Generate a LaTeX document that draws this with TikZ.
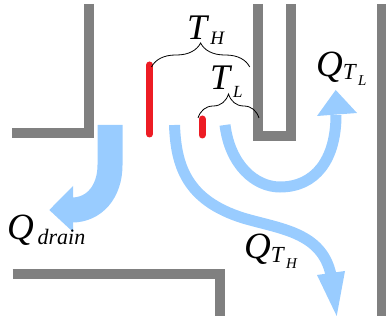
\documentclass[tikz,border=0pt]{standalone}
\usepackage{fontspec}
\setmainfont{Liberation Serif}
\usepackage{xcolor}
\usetikzlibrary{decorations.pathreplacing}
\definecolor{wallgray}{RGB}{128,128,128}
\definecolor{flowblue}{RGB}{153,204,255}
\definecolor{tubered}{RGB}{237,28,36}
\newcommand{\sizedtxt}[2]{{\fontsize{#1}{#1}\selectfont\itshape #2}}
\begin{document}
\begin{tikzpicture}[
    x=1pt, y=-1pt,
    wall/.style={draw=wallgray, line width=10pt, miter limit=10},
    tube/.style={draw=tubered, line width=7pt, line cap=round},
    flow/.style={draw=flowblue},
    flowhead/.style={fill=flowblue},
    bracket/.style={draw=black, line width=0.8pt, decorate,
                    decoration={brace, amplitude=24pt}},
    label/.style={inner sep=0pt, anchor=base west},
  ]
    \useasboundingbox (0,0) rectangle (386,323);

    % walls
    \draw[wall] (88.8,4) -- (88.8,133.5) -- (12,133.5);
    \draw[wall] (258.3,4) -- (258.3,136) -- (290.7,136) -- (290.7,4);
    \draw[wall] (382.3,4) -- (382.3,316);
    \draw[wall] (12.5,274) -- (219.7,274) -- (219.7,316);

    % flows
    \draw[flow, line width=25pt] (110,125) -- (110,165)
        .. controls (110,192) and (94,210) .. (72,210);
    \fill[flowhead] (73,186) -- (49.3,210) -- (73,232) -- cycle;

    \draw[flow, line width=11pt] (174.5,125)
        .. controls (176,165) and (186,200) .. (243,218)
        .. controls (280,229) and (322,232) .. (331,275);
    \fill[flowhead] (317,275) -- (345,271) -- (336.7,316) -- cycle;

    \draw[flow, line width=11pt] (225,125)
        .. controls (230,165) and (255,187) .. (280,187)
        .. controls (315,187) and (336,160) .. (336,115);
    \fill[flowhead] (317,116) -- (335.7,90) -- (357,113) -- cycle;

    % tubes
    \draw[tube] (149.5,65) -- (149.5,134);
    \draw[tube] (202,119) -- (202,135);

    % braces
    \coordinate (thleft) at (151.5,67);
    \coordinate (thright) at (249.7,67);
    \coordinate (tlleft) at (198,118);
    \coordinate (tlright) at (259,118);
    \draw[bracket] (thleft) -- (thright);
    \draw[bracket] (tlleft) -- (tlright);

    % labels
    \node[label] (th) at (187,40) {\sizedtxt{36}{T}\raisebox{-5pt}{\sizedtxt{19}{\,H}}};
    \node[label] (tl) at (210,90) {\sizedtxt{36}{T}\raisebox{-7.5pt}{\sizedtxt{17}{\,L}}};
    \node[label] (qtl) at (316,77) {\sizedtxt{37}{Q}\raisebox{-3pt}{\sizedtxt{23}{T}}\raisebox{-9pt}{\sizedtxt{15}{\,L}}};
    \node[label] (qth) at (244,259) {\sizedtxt{37}{Q}\raisebox{-4pt}{\sizedtxt{23}{T}}\raisebox{-10pt}{\sizedtxt{15}{\,H}}};
    \node[label] (qdrain) at (7,240) {\sizedtxt{37}{Q}\raisebox{-5pt}{\sizedtxt{22}{\,drain}}};
  \end{tikzpicture}
\end{document}
